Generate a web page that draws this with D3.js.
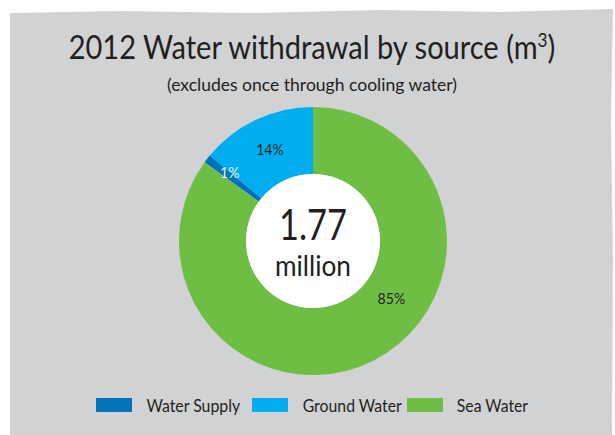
<!DOCTYPE html>
<html>
<head>
<meta charset="utf-8">
<script src="https://cdn.jsdelivr.net/npm/d3@7/dist/d3.min.js"></script>
<style>
    body { margin: 0; background: #ffffff; }
    svg { display: block; }
    text { font-family: "Lato", "Noto Sans", sans-serif; fill: #231f20; }
</style>
</head>
<body>
<svg id="chart" width="615" height="435"></svg>
<script>
const categories = ["Water Supply", "Ground Water", "Sea Water"];
const shares = [1, 14, 85];
const colors = ["#0072bc", "#00aeef", "#6fbe44"];
const totalLabel = "1.77";
const totalUnit = "million";

const svg = d3.select("#chart");
const width = +svg.attr("width");
const height = +svg.attr("height");

// squeeze a text element horizontally so it spans a given width (the original font is narrow)
function fitWidth(sel, target) {
    const node = sel.node();
    const box = node.getBBox();
    const k = target / box.width;
    const x0 = box.x + box.width / 2;
    sel.attr("transform", `translate(${x0},0) scale(${k},1) translate(${-x0},0)`);
}

// gray panel with a slightly torn top edge
svg.append("path")
    .attr("d", "M10,13 L120,11 L250,13 L380,10 L500,12 L613,9 L611,120 L613,260 L612,435 L10,435 Z")
    .attr("fill", "#d1d2d4");

// title
const title = svg.append("text")
    .attr("x", 312)
    .attr("y", 59)
    .attr("text-anchor", "middle")
    .style("font-size", "32px");
title.append("tspan").text("2012 Water withdrawal by source (m");
title.append("tspan").attr("dy", -12).style("font-size", "19px").text("3");
title.append("tspan").attr("dy", 12).text(")");
fitWidth(title, 487);

const subtitle = svg.append("text")
    .attr("x", 312)
    .attr("y", 91)
    .attr("text-anchor", "middle")
    .style("font-size", "17px")
    .text("(excludes once through cooling water)");
fitWidth(subtitle, 290);

// donut
const cx = 313, cy = 241;
const outerR = 134, innerR = 67;

const data = categories.map((c, i) => ({ name: c, value: shares[i], color: colors[i] }));

const startOffset = -(shares[0] + shares[1]) / 100 * 2 * Math.PI;
const pie = d3.pie()
    .sort(null)
    .value(d => d.value)
    .startAngle(startOffset)
    .endAngle(startOffset + 2 * Math.PI);

const arc = d3.arc().innerRadius(innerR).outerRadius(outerR);

const g = svg.append("g").attr("transform", `translate(${cx},${cy})`);
const arcs = pie(data);

g.selectAll("path.slice")
    .data(arcs)
    .enter().append("path")
    .attr("class", "slice")
    .attr("d", arc)
    .attr("fill", d => d.data.color);

g.append("circle").attr("r", innerR).attr("fill", "#ffffff");

// percentage labels (angle shift / radius per slice to sit like the original)
const labelTweak = [
    { shift: 0.03, r: 108, color: "#e8f1f8" },
    { shift: 0, r: 101, color: "#231f20" },
    { shift: -0.47, r: 97, color: "#231f20" }
];
g.selectAll("text.pct")
    .data(arcs)
    .enter().append("text")
    .attr("class", "pct")
    .attr("text-anchor", "middle")
    .attr("dy", "0.35em")
    .style("font-size", "16px")
    .style("fill", (d, i) => labelTweak[i].color)
    .attr("transform", (d, i) => {
        const a = (d.startAngle + d.endAngle) / 2 + labelTweak[i].shift;
        const r = labelTweak[i].r;
        return `translate(${r * Math.sin(a)},${-r * Math.cos(a)}) scale(0.88,1)`;
    })
    .text(d => d.data.value + "%");

const big = g.append("text")
    .attr("text-anchor", "middle")
    .attr("y", -1)
    .style("font-size", "42px")
    .text(totalLabel);
fitWidth(big, 68);

const unit = g.append("text")
    .attr("text-anchor", "middle")
    .attr("y", 35)
    .style("font-size", "28px")
    .text(totalUnit);
fitWidth(unit, 76);

// legend
const legendX = [96, 252, 407];
const legendW = [94, 100, 72];
const legend = svg.append("g").attr("class", "legend");
const items = legend.selectAll("g")
    .data(data)
    .enter().append("g")
    .attr("transform", (d, i) => `translate(${legendX[i]},398)`);

items.append("rect")
    .attr("width", 36)
    .attr("height", 14)
    .attr("fill", d => d.color);

items.append("text")
    .attr("x", 47)
    .attr("y", 14)
    .style("font-size", "17px")
    .text(d => d.name)
    .each(function (d, i) { fitWidth(d3.select(this), legendW[i]); });
</script>
</body>
</html>
